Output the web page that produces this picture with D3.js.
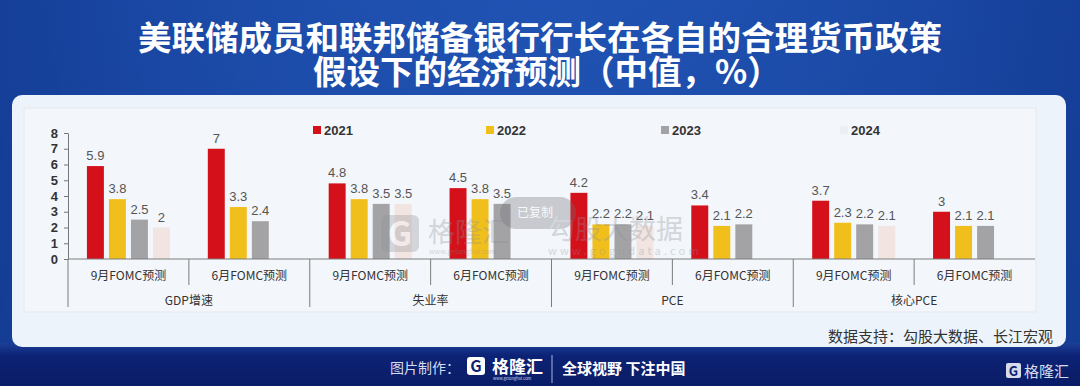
<!DOCTYPE html>
<html>
<head>
<meta charset="utf-8">
<script src="https://cdn.jsdelivr.net/npm/d3@7"></script>
<style>
  body { margin: 0; background: #163f95; }
  svg { display: block; font-family: "Noto Sans CJK SC", "Noto Sans", sans-serif; }
</style>
</head>
<body>
<svg width="1080" height="386"></svg>
<script>
// data
const indicators = ["GDP增速", "失业率", "PCE", "核心PCE"];
const meetings = ["9月FOMC预测", "6月FOMC预测"];
const years = ["2021", "2022", "2023", "2024"];
// one value per (indicator, meeting), in order GDP9, GDP6, 失业9, 失业6, PCE9, PCE6, 核心9, 核心6
const values2021 = [5.9, 7, 4.8, 4.5, 4.2, 3.4, 3.7, 3];
const values2022 = [3.8, 3.3, 3.8, 3.8, 2.2, 2.1, 2.3, 2.1];
const values2023 = [2.5, 2.4, 3.5, 3.5, 2.2, 2.2, 2.2, 2.1];
const values2024 = [2, null, 3.5, null, 2.1, null, 2.1, null];
const yTicks = [0, 1, 2, 3, 4, 5, 6, 7, 8];

const colors = { "2021": "#d4111b", "2022": "#f1bf1c", "2023": "#a3a3a5", "2024": "#f2e5e1" };
const seriesByYear = { "2021": values2021, "2022": values2022, "2023": values2023, "2024": values2024 };

const svg = d3.select("svg");
const width = +svg.attr("width");
const height = +svg.attr("height");

const defs = svg.append("defs");
const bg = defs.append("linearGradient").attr("id", "bg").attr("x1", 0).attr("x2", 0).attr("y1", 0).attr("y2", 1);
bg.append("stop").attr("offset", "0%").attr("stop-color", "#1c4eae");
bg.append("stop").attr("offset", "100%").attr("stop-color", "#1a47a2");
const bgH = defs.append("linearGradient").attr("id", "bgh").attr("x1", 0).attr("x2", 1).attr("y1", 0).attr("y2", 0);
bgH.append("stop").attr("offset", "0%").attr("stop-color", "#10358a").attr("stop-opacity", 0.6);
bgH.append("stop").attr("offset", "50%").attr("stop-color", "#2a5fc0").attr("stop-opacity", 0.25);
bgH.append("stop").attr("offset", "100%").attr("stop-color", "#10358a").attr("stop-opacity", 0.6);
const foot = defs.append("linearGradient").attr("id", "foot").attr("x1", 0).attr("x2", 0).attr("y1", 0).attr("y2", 1);
foot.append("stop").attr("offset", "0%").attr("stop-color", "#1c3f97");
foot.append("stop").attr("offset", "30%").attr("stop-color", "#0c2275");
foot.append("stop").attr("offset", "100%").attr("stop-color", "#0a1c66");

svg.append("rect").attr("width", width).attr("height", height).attr("fill", "url(#bg)");
svg.append("rect").attr("width", width).attr("height", 350).attr("fill", "url(#bgh)");
svg.append("rect").attr("y", 343).attr("width", width).attr("height", 43).attr("fill", "url(#foot)");

// title
const title = svg.append("g").attr("fill", "#fff").attr("font-weight", "bold").attr("font-size", 33.5);
title.append("text").attr("x", 540).attr("y", 50).attr("text-anchor", "middle")
  .text("美联储成员和联邦储备银行行长在各自的合理货币政策");
title.append("text").attr("x", 313).attr("y", 84).text("假设下的经济预测（中值，%）");

// white panel
svg.append("rect").attr("x", 12).attr("y", 95).attr("width", 1054).attr("height", 252)
  .attr("rx", 10).attr("fill", "#edf3fa");
svg.append("rect").attr("x", 24).attr("y", 108).attr("width", 1012).attr("height", 204)
  .attr("fill", "#f3f6fa").attr("stroke", "#e6e9ee");

// scales
const groups = [];
indicators.forEach(ind => meetings.forEach(m => groups.push(ind + "|" + m)));
const x0 = d3.scaleBand().domain(groups).range([68, 1035]);
const xInd = d3.scaleBand().domain(indicators).range([68, 1035]);
const x1 = d3.scaleBand().domain(years).range([0, x0.bandwidth()]).paddingInner(0.23).paddingOuter(0.86);
const y = d3.scaleLinear().domain([0, 8]).range([259, 133]);

const barData = [];
years.forEach(yr => seriesByYear[yr].forEach((v, i) => {
  if (v != null) barData.push({ year: yr, group: groups[i], value: v });
}));

// bars
svg.append("g").selectAll("rect").data(barData).join("rect")
  .attr("x", d => x0(d.group) + x1(d.year))
  .attr("y", d => y(d.value))
  .attr("width", x1.bandwidth())
  .attr("height", d => y(0) - y(d.value))
  .attr("fill", d => colors[d.year]);

// value labels
svg.append("g").attr("font-size", 13).attr("fill", "#555").attr("text-anchor", "middle")
  .attr("font-family", "Liberation Sans, Arial, sans-serif")
  .selectAll("text").data(barData).join("text")
  .attr("x", d => x0(d.group) + x1(d.year) + x1.bandwidth() / 2)
  .attr("y", d => y(d.value) - 6)
  .text(d => d3.format("")(d.value));

// y axis
const yAxis = svg.append("g").attr("transform", "translate(68,0)")
  .call(d3.axisLeft(y).tickValues(yTicks).tickSize(4).tickSizeOuter(0).tickFormat(d3.format("d")));
yAxis.select(".domain").attr("stroke", "#777");
yAxis.selectAll(".tick line").attr("stroke", "#777");
yAxis.selectAll(".tick text").attr("font-size", 13).attr("font-weight", "bold").attr("fill", "#333")
  .attr("font-family", "Liberation Sans, Arial, sans-serif").attr("x", -10);

// baseline and dividers
const lines = svg.append("g").attr("stroke", "#7d7d7d").attr("stroke-width", 1);
lines.append("line").attr("x1", 68).attr("x2", 1035).attr("y1", y(0)).attr("y2", y(0));
lines.append("line").attr("x1", 68).attr("x2", 68).attr("y1", y(0)).attr("y2", 307);
indicators.forEach(ind => {
  const mid = xInd(ind) + xInd.bandwidth() / 2;
  lines.append("line").attr("x1", mid).attr("x2", mid).attr("y1", y(0)).attr("y2", 285);
  const end = xInd(ind) + xInd.bandwidth();
  if (end < 1030) lines.append("line").attr("x1", end).attr("x2", end).attr("y1", y(0)).attr("y2", 307);
});

// category labels
svg.append("g").attr("font-size", 12).attr("fill", "#333").attr("text-anchor", "middle")
  .selectAll("text").data(groups).join("text")
  .attr("x", d => x0(d) + x0.bandwidth() / 2).attr("y", 280)
  .text(d => d.split("|")[1]);
svg.append("g").attr("font-size", 12).attr("fill", "#333").attr("text-anchor", "middle")
  .selectAll("text").data(indicators).join("text")
  .attr("x", d => xInd(d) + xInd.bandwidth() / 2).attr("y", 305)
  .text(d => d);

// watermarks, drawn over the bars as in the picture
const wm = svg.append("g").attr("opacity", 0.32);
wm.append("rect").attr("x", 381).attr("y", 215).attr("width", 38).attr("height", 37).attr("rx", 6).attr("fill", "#8e929a");
wm.append("text").attr("x", 400).attr("y", 246).attr("text-anchor", "middle").attr("font-size", 34)
  .attr("font-weight", "bold").attr("fill", "#f3f6fa").text("G");
wm.append("text").attr("x", 428).attr("y", 242).attr("font-size", 27).attr("fill", "#8e929a").text("格隆汇");
wm.append("text").attr("x", 429).attr("y", 254).attr("font-size", 7).attr("fill", "#8e929a").text("www.gelonghui.com");
wm.append("rect").attr("x", 500).attr("y", 197).attr("width", 76).attr("height", 32).attr("rx", 16).attr("fill", "#6f7178");
wm.append("text").attr("x", 535).attr("y", 217).attr("text-anchor", "middle").attr("font-size", 12).attr("fill", "#fff").text("已复制");
wm.append("text").attr("x", 548).attr("y", 239).attr("font-size", 27).attr("fill", "#8e929a").text("勾股大数据");
wm.append("text").attr("x", 548).attr("y", 255).attr("font-size", 11).attr("letter-spacing", 3.2).attr("fill", "#8e929a").text("www.gogudata.com");

// legend
const legendX = [313, 486, 661, 840];
const legend = svg.append("g").selectAll("g").data(years).join("g")
  .attr("transform", (d, i) => `translate(${legendX[i]},130)`);
legend.append("rect").attr("x", 0).attr("y", -4).attr("width", 8).attr("height", 8)
  .attr("fill", d => d === "2024" ? "#eceef2" : colors[d]);
legend.append("text").attr("x", 11).attr("y", 4.5).attr("font-size", 13).attr("font-weight", "bold")
  .attr("fill", "#333").attr("font-family", "Liberation Sans, Arial, sans-serif").text(d => d);

// source
svg.append("text").attr("x", 1053).attr("y", 342).attr("text-anchor", "end").attr("font-size", 15)
  .attr("fill", "#333").text("数据支持：勾股大数据、长江宏观");

// footer
const f = svg.append("g");
f.append("text").attr("x", 390).attr("y", 373).attr("font-size", 14).attr("fill", "#d6dcf0").text("图片制作：");
f.append("rect").attr("x", 467).attr("y", 357).attr("width", 18).attr("height", 18).attr("rx", 3).attr("fill", "#fff");
f.append("text").attr("x", 476).attr("y", 372).attr("text-anchor", "middle").attr("font-size", 16)
  .attr("font-weight", "bold").attr("fill", "#0c2275").text("G");
f.append("text").attr("x", 492).attr("y", 373).attr("font-size", 17).attr("font-weight", "bold").attr("fill", "#fff").text("格隆汇");
f.append("text").attr("x", 493).attr("y", 380).attr("font-size", 4).attr("fill", "#cfd6ee").text("www.gelonghui.com");
f.append("line").attr("x1", 552).attr("x2", 552).attr("y1", 355).attr("y2", 383).attr("stroke", "#aab4dc");
f.append("text").attr("x", 562).attr("y", 374).attr("font-size", 15).attr("font-weight", "bold").attr("fill", "#fff").text("全球视野 下注中国");
f.append("rect").attr("x", 1006).attr("y", 363).attr("width", 15).attr("height", 15).attr("rx", 2).attr("fill", "#d8dcea");
f.append("text").attr("x", 1013.5).attr("y", 376).attr("text-anchor", "middle").attr("font-size", 13)
  .attr("font-weight", "bold").attr("fill", "#0c2275").text("G");
f.append("text").attr("x", 1024).attr("y", 377).attr("font-size", 15).attr("fill", "#d8dcea").text("格隆汇");
</script>
</body>
</html>
